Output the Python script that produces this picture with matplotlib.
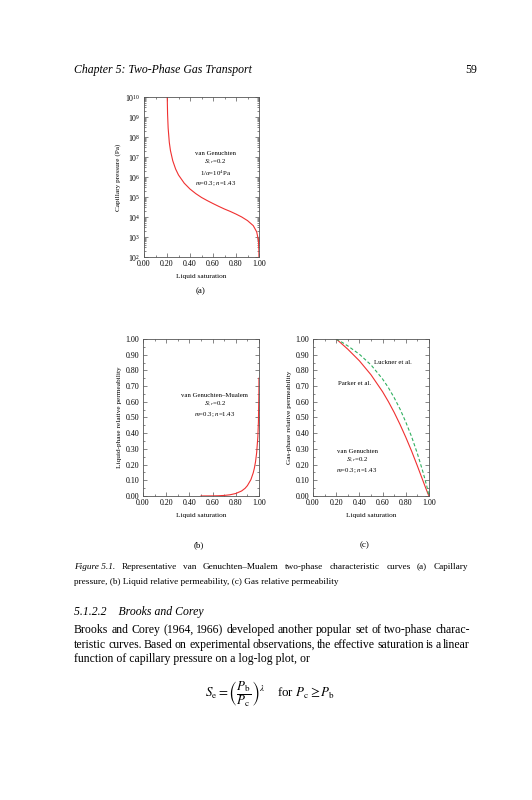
import matplotlib.pyplot as plt
from matplotlib.ticker import MultipleLocator, LogLocator, FormatStrFormatter, LogFormatterMathtext, NullFormatter

plt.rcParams['font.family'] = ['Liberation Serif', 'DejaVu Serif']
plt.rcParams['mathtext.fontset'] = 'stix'

# (a) capillary pressure curve
sat_pc = [0.2021, 0.205, 0.21, 0.22, 0.23, 0.25, 0.275, 0.30, 0.35, 0.40, 0.45, 0.50,
          0.55, 0.60, 0.65, 0.70, 0.75, 0.80, 0.85, 0.90, 0.95, 0.98, 0.995, 0.999, 0.9997]
pc = [1e10, 1.4e9, 2.8e8, 5.4e7, 2.1e7, 6.5e6, 2.5e6, 1.26e6, 4.9e5, 2.5e5, 1.48e5, 9.5e4,
      6.6e4, 4.7e4, 3.4e4, 2.5e4, 1.9e4, 1.4e4, 1.0e4, 6.6e3, 3.7e3, 1.8e3, 6.8e2, 2.2e2, 1e2]

# (b) liquid relative permeability
sat_krl = [0.50, 0.60, 0.65, 0.70, 0.75, 0.80, 0.85, 0.88, 0.90, 0.93, 0.95, 0.96, 0.97,
           0.98, 0.99, 0.995, 0.999, 0.9997]
krl = [0.0002, 0.0007, 0.0016, 0.0036, 0.0077, 0.016, 0.032, 0.049, 0.066, 0.104, 0.147,
       0.177, 0.218, 0.277, 0.377, 0.471, 0.651, 0.75]

# (c) gas relative permeability
sat_krg = [0.20, 0.25, 0.30, 0.40, 0.50, 0.60, 0.65, 0.70, 0.75, 0.80, 0.85, 0.90, 0.95,
           0.98, 0.99, 1.00]
krg_parker = [1.0, 0.968, 0.935, 0.861, 0.772, 0.664, 0.601, 0.532, 0.456, 0.374, 0.286,
              0.191, 0.093, 0.035, 0.016, 0.0]
krg_luckner = [1.0, 0.979, 0.956, 0.903, 0.835, 0.745, 0.690, 0.626, 0.554, 0.471, 0.378,
               0.270, 0.148, 0.065, 0.034, 0.0]

sat_ticks = [0.0, 0.2, 0.4, 0.6, 0.8, 1.0]

W, H = 532, 800
fig = plt.figure(figsize=(W / 100, H / 100), dpi=100)

RED = '#f03030'
GREEN = '#30b060'
TICK_FS = 5.7
LABEL_FS = 5.2
NOTE_FS = 4.9


def px_axes(left, top, right, bottom):
    return fig.add_axes([left / W, 1 - bottom / H, (right - left) / W, (bottom - top) / H])


def style(ax):
    for s in ax.spines.values():
        s.set_linewidth(0.6)
        s.set_color('#555555')
    ax.tick_params(which='both', direction='in', top=True, right=True,
                   labelsize=TICK_FS, width=0.5, colors='#555555', labelcolor='black', pad=2.5)
    ax.tick_params(which='major', length=3)
    ax.tick_params(which='minor', length=1.5)
    ax.set_xlim(0, 1)
    ax.set_xticks(sat_ticks)
    ax.xaxis.set_minor_locator(MultipleLocator(0.1))
    ax.xaxis.set_major_formatter(FormatStrFormatter('%.2f'))
    ax.set_xlabel('Liquid saturation', fontsize=LABEL_FS, labelpad=4)


# (a)
ax_a = px_axes(144, 97, 259, 257)
ax_a.plot(sat_pc, pc, color=RED, lw=0.8)
ax_a.set_yscale('log')
ax_a.set_ylim(1e2, 1e10)
ax_a.yaxis.set_major_locator(LogLocator(base=10, numticks=20))
ax_a.yaxis.set_minor_locator(LogLocator(base=10, subs=range(2, 10), numticks=20))
ax_a.yaxis.set_major_formatter(LogFormatterMathtext())
ax_a.yaxis.set_minor_formatter(NullFormatter())
style(ax_a)
ax_a.set_ylabel('Capillary pressure (Pa)', fontsize=LABEL_FS, labelpad=3)
note_a = ('van Genuchten\n$S_{l,r}$=0.2\n1/$\\alpha$=10$^4$Pa\n'
          '$m$=0.3; $n$=1.43')
ax_a.text(0.62, 0.66, note_a, transform=ax_a.transAxes, fontsize=NOTE_FS,
          ha='center', va='top', linespacing=1.2)

# (b)
ax_b = px_axes(143, 339, 259, 496)
ax_b.plot(sat_krl, krl, color=RED, lw=0.8)
ax_b.set_ylim(0, 1)
ax_b.yaxis.set_major_locator(MultipleLocator(0.1))
ax_b.yaxis.set_minor_locator(MultipleLocator(0.05))
ax_b.yaxis.set_major_formatter(FormatStrFormatter('%.2f'))
style(ax_b)
ax_b.set_ylabel('Liquid-phase relative permeability', fontsize=LABEL_FS, labelpad=3)
ax_b.text(0.62, 0.655, 'van Genuchten\u2013Mualem\n$S_{l,r}$=0.2\n$m$=0.3; $n$=1.43',
          transform=ax_b.transAxes, fontsize=NOTE_FS, ha='center', va='top', linespacing=1.25)

# (c)
ax_c = px_axes(313, 339, 429, 496)
ax_c.plot(sat_krg, krg_parker, color=RED, lw=0.8)
ax_c.plot(sat_krg, krg_luckner, color=GREEN, lw=0.8, ls=(0, (3, 2)))
ax_c.set_ylim(0, 1)
ax_c.yaxis.set_major_locator(MultipleLocator(0.1))
ax_c.yaxis.set_minor_locator(MultipleLocator(0.05))
ax_c.yaxis.set_major_formatter(FormatStrFormatter('%.2f'))
style(ax_c)
ax_c.set_ylabel('Gas-phase relative permeability', fontsize=LABEL_FS, labelpad=3)
ax_c.text(0.69, 0.853, 'Luckner et al.', transform=ax_c.transAxes, fontsize=NOTE_FS,
          ha='center', va='center')
ax_c.text(0.355, 0.718, 'Parker et al.', transform=ax_c.transAxes, fontsize=NOTE_FS,
          ha='center', va='center')
ax_c.text(0.38, 0.30, 'van Genuchten\n$S_{l,r}$=0.2\n$m$=0.3; $n$=1.43',
          transform=ax_c.transAxes, fontsize=NOTE_FS, ha='center', va='top', linespacing=1.25)


# page text
def ftext(x, y, s, **kw):
    return fig.text(x / W, 1 - y / H, s, **kw)


def justify(words, y, fs, x0=74, x1=470, styles=None):
    texts = []
    for i, w in enumerate(words):
        st = styles[i] if styles else 'normal'
        texts.append(ftext(0, y, w, fontsize=fs, style=st, va='center'))
    r = fig.canvas.get_renderer()
    widths = [t.get_window_extent(r).width for t in texts]
    gap = (x1 - x0 - sum(widths)) / (len(words) - 1)
    x = x0
    for t, w in zip(texts, widths):
        t.set_x(x / W)
        x += w + gap


ftext(74, 70, 'Chapter 5: Two-Phase Gas Transport', fontsize=8.5, style='italic', va='center')
ftext(477, 70, '59', fontsize=8.5, ha='right', va='center')
ftext(201, 291, '(a)', fontsize=6.5, ha='center', va='center')
ftext(199, 545, '(b)', fontsize=6.5, ha='center', va='center')
ftext(365, 545, '(c)', fontsize=6.5, ha='center', va='center')

CAP_FS = 6.7
cap1 = ['Figure 5.1.', 'Representative', 'van', 'Genuchten\u2013Mualem', 'two-phase',
        'characteristic', 'curves', '(a)', 'Capillary']
justify(cap1, 567, CAP_FS, x1=468, styles=['italic'] + ['normal'] * 8)
ftext(74, 582, 'pressure, (b) Liquid relative permeability, (c) Gas relative permeability',
      fontsize=CAP_FS, va='center')

ftext(74, 612, '5.1.2.2    Brooks and Corey', fontsize=8.5, style='italic', va='center')
PARA_FS = 8.5
para1 = 'Brooks and Corey (1964, 1966) developed another popular set of two-phase charac-'
para2 = ('teristic curves. Based on experimental observations, the effective saturation '
         'is a linear')
justify(para1.split(' '), 630, PARA_FS)
justify(para2.split(' '), 645, PARA_FS)
ftext(74, 659, 'function of capillary pressure on a log-log plot, or', fontsize=PARA_FS, va='center')
ftext(270, 694, r'$S_\mathrm{e} = \left(\dfrac{P_\mathrm{b}}{P_\mathrm{c}}\right)^{\lambda}$'
      r'$\quad$ for $P_\mathrm{c} \geq P_\mathrm{b}$', fontsize=9.4, ha='center', va='center')

fig.savefig('out.png', dpi=100)
